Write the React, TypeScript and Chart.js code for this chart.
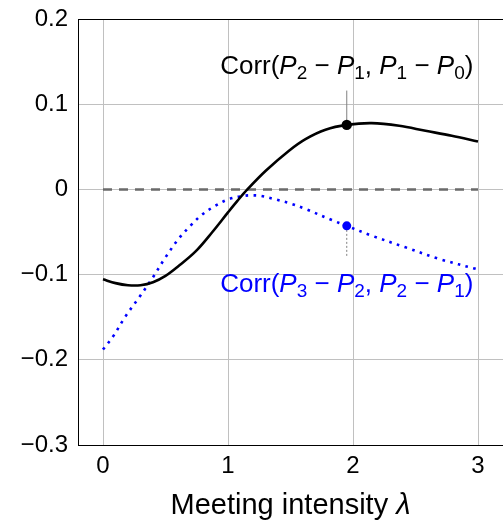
import React, { useEffect, useRef } from "react";
import { Chart, registerables } from "chart.js";

Chart.register(...registerables);

// ---- data ----
const lambdaBlack = [0, 0.1, 0.2, 0.3, 0.4, 0.5, 0.6, 0.743, 0.875, 1.0, 1.075, 1.155, 1.302, 1.488, 1.62, 1.78, 1.95, 2.15, 2.37, 2.58, 2.79, 3.0];
const corrBlack = [-0.1055, -0.110, -0.1125, -0.1125, -0.109, -0.1015, -0.0905, -0.0725, -0.050, -0.027, -0.0135, 0.0, 0.0219, 0.0454, 0.059, 0.070, 0.0757, 0.0778, 0.0747, 0.0688, 0.063, 0.0563];

const lambdaBlue = [0, 0.08, 0.18, 0.29, 0.4, 0.5, 0.61, 0.70, 0.79, 0.895, 1.01, 1.134, 1.2, 1.262, 1.387, 1.51, 1.62, 1.83, 1.95, 2.15, 2.42, 2.69, 3.0];
const corrBlue = [-0.188, -0.1727, -0.149, -0.1266, -0.103, -0.0797, -0.0570, -0.0426, -0.030, -0.0195, -0.0113, -0.0074, -0.007, -0.0076, -0.012, -0.0171, -0.023, -0.0359, -0.0428, -0.0543, -0.068, -0.0816, -0.094];

const zeroLineX = [0, 3];
const zeroLineY = [0, 0];

const markerLambda = 1.95;
const markerBlack = 0.0757;
const markerBlue = -0.0428;
const pinEndBlack = 0.116;
const pinEndBlue = -0.08;

const xTicks = [0, 1, 2, 3];
const yTicks = [-0.3, -0.2, -0.1, 0, 0.1, 0.2];
const xMin = -0.2;
const xMax = 3.2;
const yMin = -0.3;
const yMax = 0.2;

type Seg = [string, "r" | "i" | "s"];
const labelBlack: Seg[] = [["Corr(", "r"], ["P", "i"], ["2", "s"], [" − ", "r"], ["P", "i"], ["1", "s"], [", ", "r"], ["P", "i"], ["1", "s"], [" − ", "r"], ["P", "i"], ["0", "s"], [")", "r"]];
const labelBlue: Seg[] = [["Corr(", "r"], ["P", "i"], ["3", "s"], [" − ", "r"], ["P", "i"], ["2", "s"], [", ", "r"], ["P", "i"], ["2", "s"], [" − ", "r"], ["P", "i"], ["1", "s"], [")", "r"]];
const xTitle: Seg[] = [["Meeting intensity ", "r"], ["λ", "i"]];

const FONT = '"Liberation Sans", Arial, sans-serif';

function drawRich(ctx: CanvasRenderingContext2D, segs: Seg[], cx: number, by: number, size: number, color: string) {
  const fontFor = (k: string) =>
    k === "i" ? `italic ${size}px ${FONT}` : k === "s" ? `${Math.round(size * 0.72)}px ${FONT}` : `${size}px ${FONT}`;
  let total = 0;
  for (const [t, k] of segs) {
    ctx.font = fontFor(k);
    total += ctx.measureText(t).width;
  }
  let x = cx - total / 2;
  ctx.fillStyle = color;
  ctx.textAlign = "left";
  ctx.textBaseline = "alphabetic";
  for (const [t, k] of segs) {
    ctx.font = fontFor(k);
    ctx.fillText(t, x, by + (k === "s" ? size * 0.2 : 0));
    x += ctx.measureText(t).width;
  }
}

const decorPlugin = {
  id: "decor",
  afterDraw(chart: any) {
    const ctx = chart.ctx as CanvasRenderingContext2D;
    const { left, right, top } = chart.chartArea;
    const xs = chart.scales.x;
    const ys = chart.scales.y;
    ctx.save();
    ctx.strokeStyle = "#000";
    ctx.lineWidth = 1;
    ctx.beginPath();
    ctx.moveTo(left, Math.round(top) + 0.5);
    ctx.lineTo(right + 2, Math.round(top) + 0.5);
    ctx.stroke();
    const cx = xs.getPixelForValue(markerLambda);
    drawRich(ctx, labelBlack, cx, ys.getPixelForValue(pinEndBlack) - 17, 26, "#000");
    drawRich(ctx, labelBlue, cx, ys.getPixelForValue(pinEndBlue) + 34, 26, "#0000ff");
    drawRich(ctx, xTitle, (left + right) / 2, 514, 29, "#000");
    ctx.restore();
  },
};

const pts = (xs: number[], ys: number[]) => xs.map((x, i) => ({ x, y: ys[i] }));

const zeroPad = (s: any) => {
  s.paddingTop = 0;
  s.paddingBottom = 0;
  s.paddingLeft = 0;
  s.paddingRight = 0;
};

export default function App() {
  const ref = useRef<HTMLCanvasElement | null>(null);
  useEffect(() => {
    if (!ref.current) return;
    const chart = new Chart(ref.current, {
      type: "line",
      data: {
        datasets: [
          {
            data: pts([markerLambda], [markerBlack]),
            showLine: false,
            pointRadius: 5.2,
            pointBackgroundColor: "#000",
            pointBorderWidth: 0,
            order: 0,
          } as any,
          {
            data: pts([markerLambda], [markerBlue]),
            showLine: false,
            pointRadius: 4.5,
            pointBackgroundColor: "#0000ff",
            pointBorderWidth: 0,
            order: 0,
          } as any,
          {
            data: pts([markerLambda, markerLambda], [markerBlack, pinEndBlack]),
            borderColor: "#808080",
            borderWidth: 1,
            pointRadius: 0,
            order: 1,
          },
          {
            data: pts([markerLambda, markerLambda], [markerBlue, pinEndBlue]),
            borderColor: "#808080",
            borderWidth: 1,
            borderDash: [2, 2],
            pointRadius: 0,
            order: 1,
          },
          {
            data: pts(lambdaBlack, corrBlack),
            borderColor: "#000",
            borderWidth: 2.6,
            pointRadius: 0,
            tension: 0.35,
            order: 2,
          },
          {
            data: pts(lambdaBlue, corrBlue),
            borderColor: "#0000ff",
            borderWidth: 2.6,
            borderDash: [2.6, 5.4],
            pointRadius: 0,
            tension: 0.35,
            order: 3,
          },
          {
            data: pts(zeroLineX, zeroLineY),
            borderColor: "#6a6a6a",
            borderWidth: 2.5,
            borderDash: [9, 7],
            pointRadius: 0,
            order: 10,
          },
        ],
      },
      options: {
        animation: false,
        responsive: false,
        devicePixelRatio: 1,
        layout: { autoPadding: false, padding: { top: 19, left: 0, right: 0, bottom: 0 } },
        plugins: { legend: { display: false }, tooltip: { enabled: false } },
        scales: {
          x: {
            type: "linear",
            min: xMin,
            max: xMax,
            afterBuildTicks: (s: any) => {
              s.ticks = xTicks.map((v) => ({ value: v }));
            },
            afterFit: (s: any) => {
              s.height = 75;
              zeroPad(s);
            },
            ticks: {
              autoSkip: false,
              color: "#000",
              padding: 7,
              font: { size: 24, family: FONT },
              callback: (v: any) => String(v),
            },
            grid: { color: "#c0c0c0", lineWidth: 1, drawTicks: false },
            border: { color: "#000", width: 1 },
          },
          y: {
            type: "linear",
            min: yMin,
            max: yMax,
            afterBuildTicks: (s: any) => {
              s.ticks = yTicks.map((v) => ({ value: v }));
            },
            afterFit: (s: any) => {
              s.width = 78;
              zeroPad(s);
            },
            ticks: {
              autoSkip: false,
              color: "#000",
              padding: 10,
              font: { size: 24, family: FONT },
              callback: (v: any) => (Math.abs(v) < 1e-9 ? "0" : Number(v).toFixed(1).replace("-", "−")),
            },
            grid: { color: "#c0c0c0", lineWidth: 1, drawTicks: false },
            border: { color: "#000", width: 1 },
          },
        },
      } as any,
      plugins: [decorPlugin],
    });
    return () => chart.destroy();
  }, []);
  return (
    <div style={{ position: "fixed", left: 0, top: 0, width: 503, height: 520, overflow: "hidden", background: "#fff" }}>
      <canvas ref={ref} width={503} height={520} style={{ display: "block" }} />
    </div>
  );
}
